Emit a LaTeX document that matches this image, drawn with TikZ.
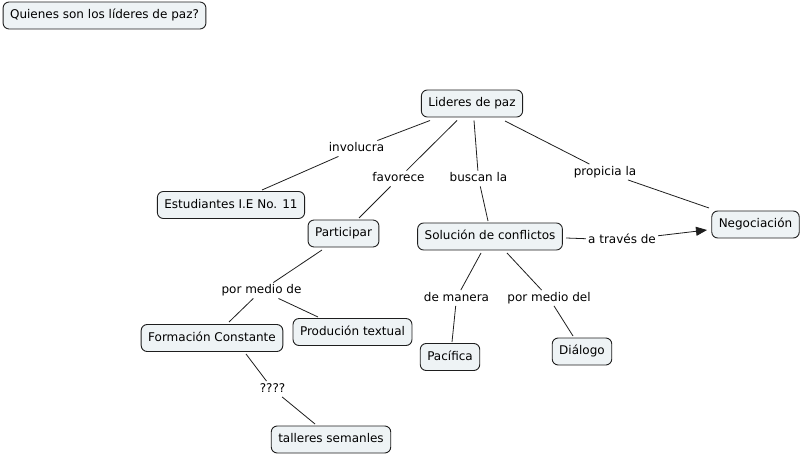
\documentclass[tikz,border=0pt]{standalone}
\usepackage{fontspec}
\setmainfont{DejaVu Sans}
\usetikzlibrary{calc,arrows.meta}
\definecolor{boxfill}{RGB}{238,243,245}
\definecolor{edge}{RGB}{30,30,30}
\tikzset{
  concept/.style={draw=edge, line width=0.9pt, fill=boxfill, rounded corners=6pt,
    minimum height=27pt, inner xsep=7pt, inner ysep=2pt,
    font=\fontsize{12}{14}\selectfont, text height=9pt, text depth=2.5pt},
  lbl/.style={inner sep=2pt, font=\fontsize{12}{14}\selectfont, text height=9pt, text depth=2.5pt},
  link/.style={draw=edge, line width=0.8pt},
}
\begin{document}
\begin{tikzpicture}[x=1pt,y=-1pt]
\useasboundingbox (0,0) rectangle (802,454);
% concepts
\node[concept] (tit) at (104.5,15.5) {Quienes son los líderes de paz?};
\node[concept] (lid) at (472,103.5) {Lideres de paz};
\node[concept] (est) at (231,205) {Estudiantes I.E No. 11};
\node[concept] (par) at (343.5,233.5) {Participar};
\node[concept] (sol) at (490,236.5) {Solución de conflictos};
\node[concept] (neg) at (755.5,224.5) {Negociación};
\node[concept] (for) at (212,338) {Formación Constante};
\node[concept] (prd) at (352.5,332) {Produción textual};
\node[concept] (pac) at (450,357) {Pacífica};
\node[concept] (dia) at (582,351.5) {Diálogo};
\node[concept] (tal) at (331,439.5) {talleres semanles};
% labels
\node[lbl] (inv) at (356.5,148.5) {involucra};
\node[lbl] (fav) at (398.5,178.5) {favorece};
\node[lbl] (bus) at (478.5,178.5) {buscan la};
\node[lbl] (pro) at (605,172) {propicia la};
\node[lbl] (atr) at (622,240) {a través de};
\node[lbl] (pmd) at (261.5,290.5) {por medio de};
\node[lbl] (dem) at (456.5,298) {de manera};
\node[lbl] (pdl) at (549,298) {por medio del};
\node[lbl] (q) at (272.5,389) {????};
% connectors
\draw[link] ($(lid)+(-42,17)$) -- (inv);
\draw[link] (inv) -- ($(est)+(31,-15)$);
\draw[link] ($(lid)+(-15,17)$) -- (fav);
\draw[link] (fav) -- ($(par)+(15.5,-15.5)$);
\draw[link] ($(lid)+(2,17)$) -- (bus);
\draw[link] (bus) -- ($(sol)+(-2,-15.5)$);
\draw[link] ($(lid)+(33,17.5)$) -- (pro);
\draw[link] (pro) -- ($(neg)+(-46.5,-16.5)$);
\draw[link] ($(sol)+(76,1.5)$) -- (atr);
\draw[link, -{Triangle[length=11pt,width=9pt]}] (atr) -- ($(neg)+(-48.5,5.5)$);
\draw[link] ($(par)+(-21.5,16.5)$) -- (pmd);
\draw[link] (pmd) -- ($(for)+(17,-16)$);
\draw[link] (pmd) -- ($(prd)+(-34.5,-15)$);
\draw[link] ($(sol)+(-9,16.5)$) -- (dem);
\draw[link] (dem) -- ($(pac)+(2,-15)$);
\draw[link] ($(sol)+(17,16.5)$) -- (pdl);
\draw[link] (pdl) -- ($(dia)+(-9,-15.5)$);
\draw[link] ($(for)+(34,16)$) -- (q);
\draw[link] (q) -- ($(tal)+(-16,-15.5)$);
\end{tikzpicture}
\end{document}
